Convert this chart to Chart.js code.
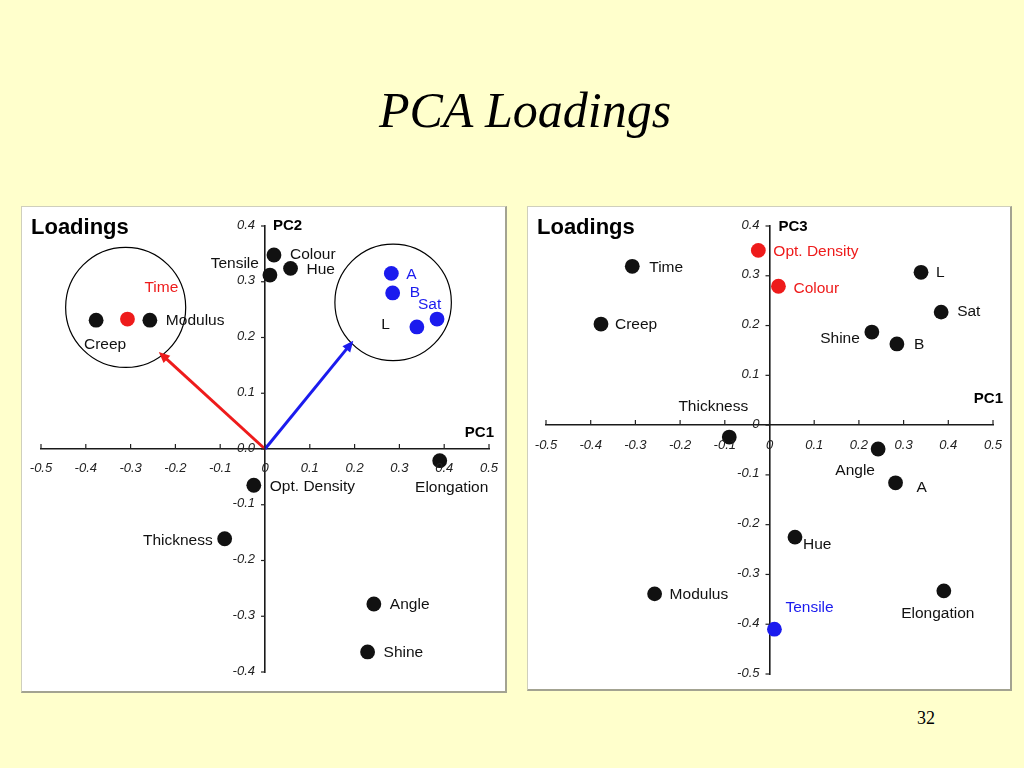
<!DOCTYPE html>
<html>
<head>
<meta charset="utf-8">
<title>PCA Loadings</title>
<script src="https://cdn.jsdelivr.net/npm/chart.js@4.4.1/dist/chart.umd.min.js"></script>
<style>
  html, body { margin: 0; padding: 0; }
  body {
    width: 1024px; height: 768px; overflow: hidden; position: relative;
    background: #ffffcc;
    font-family: "Liberation Sans", Arial, sans-serif;
  }
  .slide-title {
    position: absolute; left: 0; top: 85px; width: 1050px;
    text-align: center; line-height: 1;
    font-family: "Liberation Serif", "Times New Roman", serif;
    font-style: italic; font-size: 50px; color: #000;
  }
  .page-no {
    position: absolute; left: 917px; top: 709px; line-height: 1;
    font-family: "Liberation Serif", "Times New Roman", serif;
    font-size: 18px; color: #000;
  }
  .panel {
    position: absolute; background: #fff; box-sizing: border-box;
    border-top: 1px solid #cfcfbc; border-left: 1px solid #cfcfbc;
    border-right: 2px solid #a3a391; border-bottom: 2px solid #a3a391;
  }
  canvas { position: absolute; }
</style>
</head>
<body>
<div class="slide-title">PCA Loadings</div>

<div class="panel" style="left:21px; top:206px; width:486px; height:487px;"></div>
<div class="panel" style="left:527px; top:206px; width:485px; height:485px;"></div>
<canvas id="pc12" width="485" height="486" style="left:21px; top:206px;"></canvas>
<canvas id="pc13" width="484" height="484" style="left:527px; top:206px;"></canvas>

<div class="page-no">32</div>

<script>
// Variables and their loadings on the first three components
const variables = ['Creep', 'Time', 'Modulus', 'Tensile', 'Colour', 'Hue', 'A', 'B', 'Sat', 'L',
                   'Elongation', 'Opt. Density', 'Thickness', 'Angle', 'Shine'];
const pc1 = [-0.377, -0.307, -0.257, 0.011, 0.020, 0.057, 0.282, 0.285, 0.384, 0.339,
             0.390, -0.025, -0.090, 0.243, 0.229];
const pc2 = [0.231, 0.233, 0.231, 0.312, 0.348, 0.324, 0.315, 0.280, 0.233, 0.219,
             -0.021, -0.065, -0.161, -0.278, -0.364];
const pc3 = [0.203, 0.319, -0.339, -0.410, 0.279, -0.225, -0.116, 0.163, 0.227, 0.307,
             -0.333, 0.351, -0.024, -0.048, 0.187];

// Tick values and their labels
const pc1Ticks = [-0.5, -0.4, -0.3, -0.2, -0.1, 0, 0.1, 0.2, 0.3, 0.4, 0.5];
const pc1TickLabels = ['-0.5', '-0.4', '-0.3', '-0.2', '-0.1', '0', '0.1', '0.2', '0.3', '0.4', '0.5'];
const pc2Ticks = [-0.4, -0.3, -0.2, -0.1, 0, 0.1, 0.2, 0.3, 0.4];
const pc2TickLabels = ['-0.4', '-0.3', '-0.2', '-0.1', '0.0', '0.1', '0.2', '0.3', '0.4'];
const pc3Ticks = [-0.5, -0.4, -0.3, -0.2, -0.1, 0, 0.1, 0.2, 0.3, 0.4];
const pc3TickLabels = ['-0.5', '-0.4', '-0.3', '-0.2', '-0.1', '0', '0.1', '0.2', '0.3', '0.4'];

// Highlighted variables on each plot
const pc2RedPoints = ['Time'];
const pc2BluePoints = ['A', 'B', 'Sat', 'L'];
const pc2RedLabels = ['Time'];
const pc2BlueLabels = ['A', 'B', 'Sat'];
const pc3RedPoints = ['Opt. Density', 'Colour'];
const pc3BluePoints = ['Tensile'];
const pc3RedLabels = ['Opt. Density', 'Colour'];
const pc3BlueLabels = ['Tensile'];

// Cluster circles and arrows on the PC1/PC2 plot (data units, radius in PC1 units)
const clusterCentres = [[-0.311, 0.254], [0.286, 0.263]];
const clusterRadii = [0.134, 0.130];
const arrowTips = [[-0.237, 0.174], [0.197, 0.194]];

const RED = '#ee1b1b';
const BLUE = '#1b1bee';
const INK = '#111111';

// label placement: [dx, dy, align] in pixels from the point
const pc2LabelPos = {
  'Creep': [9, 25, 'center'], 'Time': [17, -31, 'left'], 'Modulus': [16, 1, 'left'],
  'Tensile': [-11, -11, 'right'], 'Colour': [16, 0, 'left'], 'Hue': [16, 1, 'left'],
  'A': [15, 1, 'left'], 'B': [17, 0, 'left'], 'Sat': [-19, -14, 'left'], 'L': [-27, -2, 'right'],
  'Elongation': [12, 27, 'center'], 'Opt. Density': [16, 1, 'left'], 'Thickness': [-12, 2, 'right'],
  'Angle': [16, 1, 'left'], 'Shine': [16, 1, 'left']
};
const pc3LabelPos = {
  'Creep': [14, 1, 'left'], 'Time': [17, 1, 'left'], 'Modulus': [15, 1, 'left'],
  'Tensile': [11, -21, 'left'], 'Colour': [15, 2, 'left'], 'Hue': [8, 8, 'left'],
  'A': [21, 5, 'left'], 'B': [17, 1, 'left'], 'Sat': [16, 0, 'left'], 'L': [15, 0, 'left'],
  'Elongation': [-6, 23, 'center'], 'Opt. Density': [15, 1, 'left'], 'Thickness': [-16, -30, 'center'],
  'Angle': [-23, 22, 'center'], 'Shine': [-12, 7, 'right']
};

function colourFor(name, reds, blues) {
  if (reds.includes(name)) return RED;
  if (blues.includes(name)) return BLUE;
  return INK;
}

// Draws circles/arrows, tick marks, tick labels, point labels and titles
const decorPlugin = {
  id: 'decor',
  beforeDatasetsDraw(chart, args, opts) {
    const ctx = chart.ctx;
    const xs = chart.scales.x, ys = chart.scales.y;
    ctx.save();
    (opts.circles || []).forEach((c, i) => {
      const cx = xs.getPixelForValue(c[0]);
      const cy = ys.getPixelForValue(c[1]);
      const r = Math.abs(xs.getPixelForValue(opts.radii[i]) - xs.getPixelForValue(0));
      ctx.beginPath();
      ctx.arc(cx, cy, r, 0, Math.PI * 2);
      ctx.strokeStyle = '#000';
      ctx.lineWidth = 1.2;
      ctx.stroke();
    });
    (opts.arrows || []).forEach((a, i) => {
      const x0 = xs.getPixelForValue(0), y0 = ys.getPixelForValue(0);
      const x1 = xs.getPixelForValue(a[0]), y1 = ys.getPixelForValue(a[1]);
      const ang = Math.atan2(y1 - y0, x1 - x0);
      const head = 11, half = 5;
      const colour = opts.arrowColours[i];
      ctx.strokeStyle = colour;
      ctx.fillStyle = colour;
      ctx.lineWidth = 3;
      ctx.beginPath();
      ctx.moveTo(x0, y0);
      ctx.lineTo(x1 - Math.cos(ang) * head * 0.8, y1 - Math.sin(ang) * head * 0.8);
      ctx.stroke();
      ctx.beginPath();
      ctx.moveTo(x1, y1);
      ctx.lineTo(x1 - Math.cos(ang) * head - Math.sin(ang) * half, y1 - Math.sin(ang) * head + Math.cos(ang) * half);
      ctx.lineTo(x1 - Math.cos(ang) * head + Math.sin(ang) * half, y1 - Math.sin(ang) * head - Math.cos(ang) * half);
      ctx.closePath();
      ctx.fill();
    });
    ctx.restore();
  },
  afterDatasetsDraw(chart, args, opts) {
    const ctx = chart.ctx;
    const xs = chart.scales.x, ys = chart.scales.y;
    const axisX = xs.getPixelForValue(0);
    const axisY = ys.getPixelForValue(0);
    ctx.save();

    // tick marks and tick labels
    ctx.strokeStyle = '#222';
    ctx.lineWidth = 1.2;
    ctx.fillStyle = '#222';
    ctx.font = 'italic 13px "Liberation Sans", Arial, sans-serif';
    ctx.textBaseline = 'middle';
    ctx.textAlign = 'center';
    xs.ticks.forEach((t, i) => {
      const px = xs.getPixelForValue(t.value);
      ctx.beginPath();
      ctx.moveTo(px, axisY);
      ctx.lineTo(px, axisY - 5);
      ctx.stroke();
      ctx.fillText(opts.xLabels[i], px, axisY + opts.xLabelGap);
    });
    ctx.textAlign = 'right';
    ys.ticks.forEach((t, i) => {
      const py = ys.getPixelForValue(t.value);
      ctx.beginPath();
      ctx.moveTo(axisX, py);
      ctx.lineTo(axisX - 4, py);
      ctx.stroke();
      ctx.fillText(opts.yLabels[i], axisX - 10, py - 1);
    });

    // point labels
    const meta = chart.getDatasetMeta(0);
    ctx.font = '15.5px "Liberation Sans", Arial, sans-serif';
    meta.data.forEach((pt, i) => {
      const name = variables[i];
      const pos = opts.labelPos[name];
      ctx.fillStyle = colourFor(name, opts.redLabels, opts.blueLabels);
      ctx.textAlign = pos[2];
      ctx.fillText(name, pt.x + pos[0], pt.y + pos[1]);
    });

    // panel and axis titles
    ctx.fillStyle = '#000';
    ctx.textAlign = 'left';
    ctx.font = 'bold 22px "Liberation Sans", Arial, sans-serif';
    ctx.fillText('Loadings', 10, 22);
    ctx.font = 'bold 15px "Liberation Sans", Arial, sans-serif';
    ctx.fillText(opts.yTitle, axisX + opts.yTitlePos[0], chart.chartArea.top + opts.yTitlePos[1]);
    ctx.textAlign = 'right';
    ctx.fillText('PC1', chart.chartArea.right + opts.xTitlePos[0], axisY + opts.xTitlePos[1]);
    ctx.restore();
  }
};

function loadingsChart(canvasId, yValues, yTicks, yMin, padding, reds, blues, decor) {
  const ctx = document.getElementById(canvasId).getContext('2d');
  return new Chart(ctx, {
    type: 'scatter',
    data: {
      datasets: [{
        data: pc1.map((v, i) => ({ x: v, y: yValues[i] })),
        pointRadius: 7.4,
        pointHoverRadius: 7.4,
        borderWidth: 0,
        pointBackgroundColor: variables.map(n => colourFor(n, reds, blues)),
        pointBorderColor: variables.map(n => colourFor(n, reds, blues))
      }]
    },
    options: {
      responsive: false,
      animation: false,
      events: [],
      layout: { padding: padding },
      scales: {
        x: {
          type: 'linear', min: -0.5, max: 0.5,
          position: { y: 0 },
          afterBuildTicks: s => { s.ticks = pc1Ticks.map(v => ({ value: v })); },
          grid: { display: false },
          border: { display: true, color: '#1a1a1a', width: 1.6 },
          ticks: { display: false }
        },
        y: {
          type: 'linear', min: yMin, max: 0.4,
          position: { x: 0 },
          afterBuildTicks: s => { s.ticks = yTicks.map(v => ({ value: v })); },
          grid: { display: false },
          border: { display: true, color: '#1a1a1a', width: 1.6 },
          ticks: { display: false }
        }
      },
      plugins: {
        legend: { display: false },
        tooltip: { enabled: false },
        decor: decor
      }
    },
    plugins: [decorPlugin]
  });
}

// PC1 vs PC2
loadingsChart('pc12', pc2, pc2Ticks, -0.4, { left: 20, right: 17, top: 20, bottom: 20 },
  pc2RedPoints, pc2BluePoints, {
    circles: clusterCentres, radii: clusterRadii,
    arrows: arrowTips, arrowColours: [RED, BLUE],
    xLabels: pc1TickLabels, yLabels: pc2TickLabels, xLabelGap: 19,
    labelPos: pc2LabelPos, redLabels: pc2RedLabels, blueLabels: pc2BlueLabels,
    yTitle: 'PC2', yTitlePos: [8, 0], xTitlePos: [5, -16]
  });

// PC1 vs PC3
loadingsChart('pc13', pc3, pc3Ticks, -0.5, { left: 19, right: 18, top: 20, bottom: 16 },
  pc3RedPoints, pc3BluePoints, {
    xLabels: pc1TickLabels, yLabels: pc3TickLabels, xLabelGap: 20,
    labelPos: pc3LabelPos, redLabels: pc3RedLabels, blueLabels: pc3BlueLabels,
    yTitle: 'PC3', yTitlePos: [9, 1], xTitlePos: [10, -26]
  });
</script>
</body>
</html>
